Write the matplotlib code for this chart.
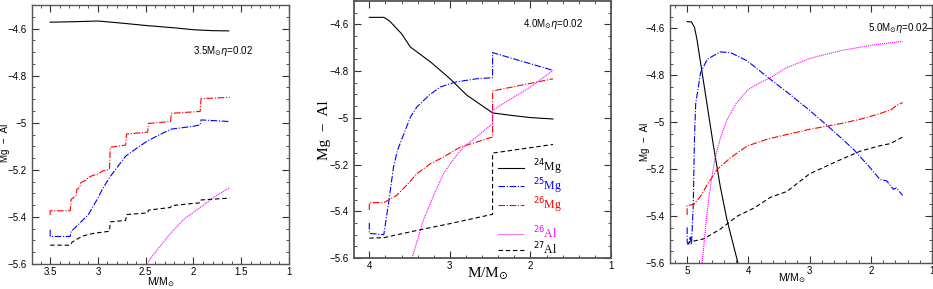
import numpy as np
import matplotlib
matplotlib.use("Agg")
import matplotlib.pyplot as plt
from matplotlib.ticker import MultipleLocator
from matplotlib.lines import Line2D

plt.rcParams['font.family'] = ['Liberation Sans', 'DejaVu Sans']
plt.rcParams['mathtext.fontset'] = 'dejavusans'

# ---- 3.5 Msun ----
m1_24mg = [3.50, 3.25, 3.00, 2.75, 2.50, 2.20, 2.00, 1.80, 1.63]
y1_24mg = [-4.573, -4.571, -4.568, -4.577, -4.587, -4.597, -4.605, -4.609, -4.61]
m1_25mg = [3.50, 3.50, 3.29, 3.28, 3.25, 3.20, 3.10, 3.00, 2.95, 2.87, 2.80, 2.71, 2.60, 2.48,
           2.35, 2.23, 2.00, 1.93, 1.92, 1.62]
y1_25mg = [-5.455, -5.483, -5.483, -5.462, -5.45, -5.43, -5.39, -5.32, -5.28, -5.228, -5.19,
           -5.142, -5.11, -5.077, -5.05, -5.027, -5.015, -5.009, -4.988, -4.995]
m1_26mg = [3.50, 3.50, 3.29, 3.28, 3.23, 3.22, 3.19, 3.18, 3.13, 3.10, 3.06, 3.00, 2.95, 2.88,
           2.87, 2.71, 2.70, 2.48, 2.47, 2.24, 2.23, 1.93, 1.92, 1.62]
y1_26mg = [-5.392, -5.374, -5.374, -5.325, -5.31, -5.283, -5.275, -5.255, -5.245, -5.232,
           -5.225, -5.218, -5.205, -5.198, -5.104, -5.095, -5.048, -5.040, -5.003, -4.995,
           -4.96, -4.952, -4.898, -4.892]
m1_26al = [2.49, 2.40, 2.24, 2.10, 1.92, 1.78, 1.62]
y1_26al = [-5.60, -5.55, -5.47, -5.41, -5.357, -5.315, -5.275]
m1_27al = [3.50, 3.29, 3.27, 3.20, 3.15, 3.05, 2.88, 2.87, 2.71, 2.70, 2.48, 2.47, 2.24, 2.23,
           1.93, 1.92, 1.62]
y1_27al = [-5.52, -5.52, -5.507, -5.49, -5.48, -5.47, -5.461, -5.421, -5.415, -5.39, -5.383,
           -5.371, -5.36, -5.352, -5.34, -5.328, -5.32]

# ---- 4.0 Msun ----
m2_24mg = [4.00, 3.82, 3.75, 3.60, 3.49, 3.24, 3.00, 2.79, 2.47, 2.25, 2.00, 1.72]
y2_24mg = [-4.57, -4.57, -4.585, -4.64, -4.697, -4.761, -4.832, -4.903, -4.979, -4.989,
           -4.999, -5.005]
m2_25mg = [4.00, 4.00, 3.82, 3.756, 3.70, 3.65, 3.57, 3.49, 3.41, 3.26, 3.12, 2.93, 2.67,
           2.47, 2.47, 1.72]
y2_25mg = [-5.45, -5.495, -5.50, -5.353, -5.211, -5.139, -5.068, -4.997, -4.954, -4.904,
           -4.868, -4.847, -4.833, -4.828, -4.721, -4.797]
m2_26mg = [4.00, 4.00, 3.82, 3.66, 3.53, 3.41, 3.24, 3.08, 2.87, 2.67, 2.47, 2.47, 1.72]
y2_26mg = [-5.395, -5.363, -5.363, -5.332, -5.286, -5.239, -5.196, -5.168, -5.125, -5.104,
           -5.082, -4.885, -4.833]
m2_26al = [3.47, 3.40, 3.33, 3.20, 3.08, 2.95, 2.83, 2.67, 2.47, 2.47, 2.20, 2.00, 1.72]
y2_26al = [-5.60, -5.52, -5.439, -5.33, -5.239, -5.175, -5.125, -5.082, -5.025, -4.968,
           -4.91, -4.868, -4.797]
m2_27al = [4.00, 3.82, 3.41, 3.00, 2.47, 2.47, 1.72]
y2_27al = [-5.515, -5.513, -5.482, -5.453, -5.413, -5.151, -5.114]

# ---- 5.0 Msun ----
m3_24mg = [5.00, 4.93, 4.88, 4.84, 4.73, 4.57, 4.46, 4.35, 4.17]
y3_24mg = [-4.571, -4.572, -4.595, -4.646, -4.831, -5.101, -5.272, -5.415, -5.60]
m3_25mg = [5.00, 5.00, 4.97, 4.95, 4.93, 4.92, 4.90, 4.88, 4.86, 4.78, 4.67, 4.46, 4.29,
           4.02, 3.64, 3.37, 3.00, 2.61, 2.28, 2.01, 1.85, 1.74, 1.63, 1.58, 1.48]
y3_25mg = [-5.448, -5.51, -5.52, -5.49, -5.52, -5.47, -5.352, -5.067, -4.92, -4.788, -4.731,
           -4.70, -4.703, -4.738, -4.817, -4.871, -4.949, -5.037, -5.116, -5.194, -5.244,
           -5.25, -5.286, -5.28, -5.312]
m3_26mg = [5.00, 5.00, 4.89, 4.78, 4.67, 4.51, 4.29, 4.02, 3.70, 3.37, 3.00, 2.55, 2.17,
           1.85, 1.66, 1.58, 1.48]
y3_26mg = [-5.395, -5.355, -5.35, -5.315, -5.265, -5.201, -5.151, -5.101, -5.073, -5.052,
           -5.030, -5.009, -4.987, -4.963, -4.945, -4.928, -4.916]
m3_26al = [4.755, 4.70, 4.65, 4.60, 4.55, 4.46, 4.35, 4.20, 4.00, 3.80, 3.64, 3.40, 3.00,
           2.50, 2.00, 1.48]
y3_26al = [-5.60, -5.45, -5.33, -5.24, -5.16, -5.07, -4.99, -4.92, -4.86, -4.83, -4.81,
           -4.77, -4.728, -4.695, -4.672, -4.655]
m3_27al = [5.00, 4.95, 4.73, 4.46, 4.18, 3.91, 3.64, 3.37, 3.00, 2.55, 2.17, 1.85, 1.68, 1.48]
y3_27al = [-5.52, -5.51, -5.497, -5.456, -5.40, -5.366, -5.32, -5.295, -5.22, -5.166,
           -5.123, -5.10, -5.091, -5.063]

labels = ['$^{24}$Mg', '$^{25}$Mg', '$^{26}$Mg', '$^{26}$Al', '$^{27}$Al']
colors = ['black', 'blue', 'red', 'magenta', 'black']
styles = ['-', (0, (6, 1.5, 1, 1.5)), (0, (6, 1.5, 1, 1.5)), (0, (1, 0.8)), (0, (4, 2.5))]

panels = [
    dict(mass='3.5', xlim=(3.69, 1.0), xmaj=0.5, xmin=0.1,
         pos=[32/933, 1-264/289, 257/933, 259/289], txt=(2.0, -4.695),
         xlab=(0.50, -0.07), ylab=(-0.105, 0.467),
         data=[(m1_24mg, y1_24mg), (m1_25mg, y1_25mg), (m1_26mg, y1_26mg),
               (m1_26al, y1_26al), (m1_27al, y1_27al)]),
    dict(mass='4.0', xlim=(4.19, 1.0), xmaj=1.0, xmin=0.2,
         pos=[354/933, 1-258/289, 257/933, 257/289], txt=(2.09, -4.6),
         xlab=(0.52, -0.06), ylab=(-0.113, 0.498),
         data=[(m2_24mg, y2_24mg), (m2_25mg, y2_25mg), (m2_26mg, y2_26mg),
               (m2_26al, y2_26al), (m2_27al, y2_27al)]),
    dict(mass='5.0', xlim=(5.28, 1.0), xmaj=1.0, xmin=0.2,
         pos=[670/933, 1-263/289, 262/933, 258/289], txt=(2.05, -4.597),
         xlab=(0.466, -0.058), ylab=(-0.095, 0.469),
         data=[(m3_24mg, y3_24mg), (m3_25mg, y3_25mg), (m3_26mg, y3_26mg),
               (m3_26al, y3_26al), (m3_27al, y3_27al)]),
]

fig = plt.figure(figsize=(9.33, 2.89), dpi=100)

for i, p in enumerate(panels):
    ax = fig.add_axes(p['pos'])
    for (x, y), c, ls in zip(p['data'], colors, styles):
        ax.plot(x, y, color=c, ls=ls, lw=0.8)
    ax.set_xlim(*p['xlim'])
    ax.set_ylim(-5.6, -4.5)
    ax.xaxis.set_major_locator(MultipleLocator(p['xmaj']))
    ax.xaxis.set_minor_locator(MultipleLocator(p['xmin']))
    ax.yaxis.set_major_locator(MultipleLocator(0.2))
    ax.yaxis.set_minor_locator(MultipleLocator(0.05))
    ax.yaxis.set_major_formatter(plt.FuncFormatter(lambda v, _: f'{v:g}'.replace('-', '\u2212')))
    ax.xaxis.set_major_formatter(plt.FuncFormatter(lambda v, _: f'{v:g}'))
    ax.tick_params(which='both', direction='in', top=True, right=True, labelsize=7,
                   color='#333333')
    ax.tick_params(which='major', length=5, width=0.8, pad=4)
    ax.tick_params(axis='x', which='major', pad=2.5)
    ax.tick_params(which='minor', length=2.5, width=0.6)
    for s in ax.spines.values():
        s.set_linewidth(1.3 if i == 1 else 1.0)
        s.set_color('#555555')
    tx, ty = p['txt']
    ax.text(tx, ty, p['mass'] + r'M$_{\odot}\eta$=0.02', fontsize=7, ha='left', va='center')
    if i == 1:
        ax.set_xlabel(r'M/M$_{\odot}$', family='Liberation Serif', fontsize=11,
                      va='center')
        ax.set_ylabel('Mg  \u2212  Al', family='Liberation Serif', fontsize=11,
                      va='center')
        handles = []
        for k, (c, ls) in enumerate(zip(colors, styles)):
            handles.append(Line2D([], [], color=c, ls=ls, lw=0.8))
            if k == 2:
                handles.append(Line2D([], [], color='none'))
        labs = labels[:3] + [''] + labels[3:]
        leg = ax.legend(handles, labs, loc='upper left', bbox_to_anchor=(0.56, 0.39),
                        frameon=False, handlelength=2.2, handletextpad=0.8,
                        labelspacing=-0.08, borderpad=0, borderaxespad=0,
                        prop={'family': 'Liberation Serif', 'size': 8.5})
        tcols = colors[:3] + ['black'] + colors[3:]
        for t, c in zip(leg.get_texts(), tcols):
            t.set_color(c)
    else:
        ax.set_xlabel(r'M/M$_{\odot}$', fontsize=7.5, va='center')
        ax.set_ylabel('Mg  \u2212  Al', fontsize=7, va='center')
    ax.xaxis.set_label_coords(*p['xlab'])
    ax.yaxis.set_label_coords(*p['ylab'])

fig.savefig('out.png', dpi=100)
